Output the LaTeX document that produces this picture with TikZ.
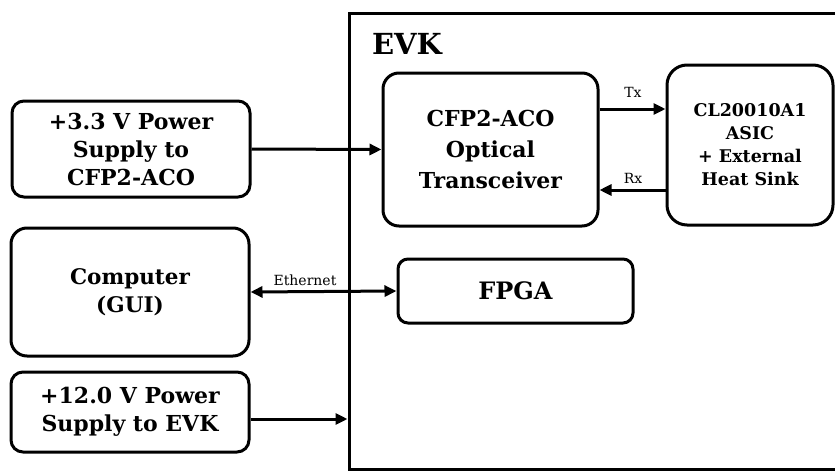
\documentclass[tikz,border=0pt]{standalone}
\usepackage{fontspec}
\setmainfont{DejaVu Serif}
\usetikzlibrary{arrows.meta}
\begin{document}
\begin{tikzpicture}[x=1pt,y=-1pt,
  box/.style={draw, line width=3pt, rounded corners=#1, align=center, inner sep=0pt, font=\bfseries},
  box/.default=12pt,
  tip/.style={Triangle[length=12pt,width=11pt]},
  conn/.style={line width=3pt, -{Triangle[length=12pt,width=11pt]}},
  lbl/.style={font=\fontsize{14}{16}\selectfont, inner sep=0pt}
]
\useasboundingbox (0,0) rectangle (835,471);
\node[draw, line width=3pt, minimum width=501pt, minimum height=456pt, inner sep=0pt] (evk) at (599.5,241) {};
\node[font=\bfseries\fontsize{29}{34}\selectfont, inner sep=0pt] (evklbl) at (407,44) {EVK};
\node[box=12pt, minimum width=238pt, minimum height=96pt, font=\bfseries\fontsize{22}{28}\selectfont] (p33) at (131,149) {+3.3 V Power\\Supply to\\CFP2-ACO};
\node[box=16pt, minimum width=215pt, minimum height=153pt, font=\bfseries\fontsize{22}{31}\selectfont] (trx) at (490.5,149.5) {CFP2-ACO\\Optical\\Transceiver};
\node[box=20pt, minimum width=166pt, minimum height=160pt, font=\bfseries\fontsize{17.5}{23}\selectfont] (asic) at (750,145) {CL20010A1\\ASIC\\+ External\\Heat Sink};
\node[box=16pt, minimum width=238pt, minimum height=128pt, font=\bfseries\fontsize{21.5}{28}\selectfont] (comp) at (130,292) {Computer\\(GUI)};
\node[box=10pt, minimum width=235pt, minimum height=64pt, font=\bfseries\fontsize{24}{28}\selectfont] (fpga) at (515.5,291) {FPGA};
\node[box=12pt, minimum width=238pt, minimum height=80pt, font=\bfseries\fontsize{22}{28}\selectfont] (p12) at (130,412) {+12.0 V Power\\Supply to EVK};
\coordinate (txy) at (0,109);
\coordinate (rxy) at (0,190);
\coordinate (p12y) at (0,419);
\draw[conn] (p33.east) -- (trx.west);
\draw[conn] (trx.east |- txy) -- (asic.west |- txy);
\draw[conn] (asic.west |- rxy) -- (trx.east |- rxy);
\draw[line width=3pt, {Triangle[length=12pt,width=11pt]}-{Triangle[length=12pt,width=11pt]}] (comp.east) -- (fpga.west);
\draw[conn] (p12.east |- p12y) -- (evk.west |- p12y);
\node[lbl] (tx) at (633,92) {Tx};
\node[lbl] (rx) at (633,178) {Rx};
\node[lbl] (eth) at (305,280) {Ethernet};
\end{tikzpicture}
\end{document}
